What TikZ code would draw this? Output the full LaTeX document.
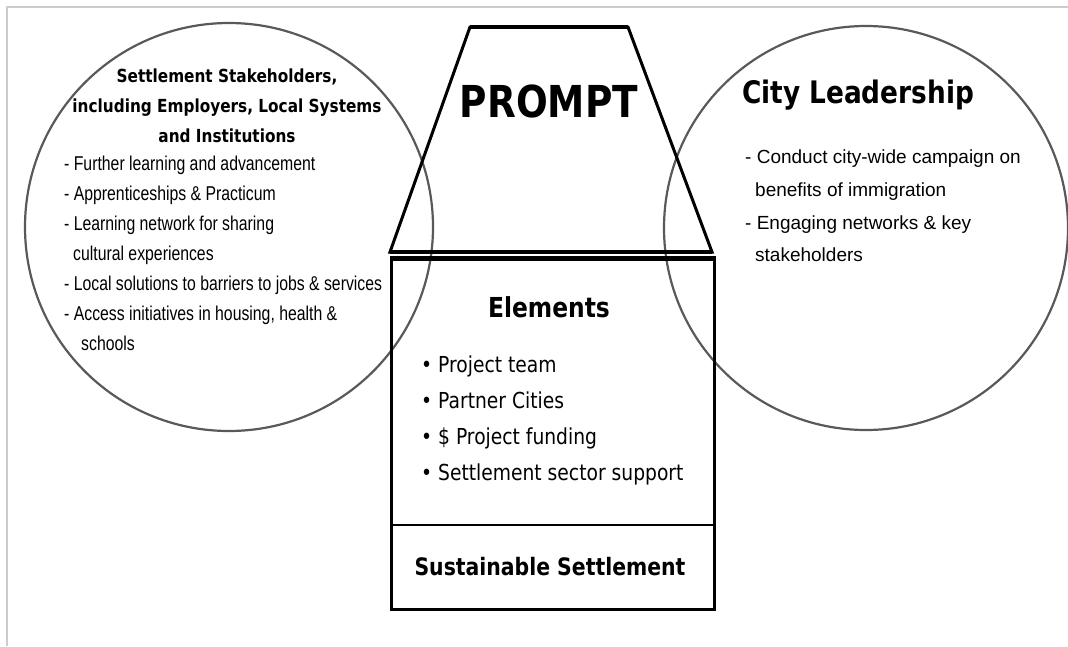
\documentclass[tikz,border=0pt]{standalone}
\usepackage{fontspec}
\setmainfont{Liberation Sans}
\newfontfamily\headfont[FakeStretch=0.85]{DejaVu Sans}
\newfontfamily\narrowfont[FakeStretch=0.79]{Liberation Sans}

\begin{document}
\begin{tikzpicture}[x=1pt,y=-1pt,inner sep=0pt]
    \tikzstyle{ring}=[circle,draw=black!65,line width=2.2pt,minimum size=408pt]
    \tikzstyle{head}=[anchor=base]
    \tikzstyle{item}=[anchor=base west]
    \useasboundingbox (0,0) rectangle (1068,646);
    \draw[black!20,line width=1.5pt] (7,646) -- (7,7) -- (1068,7);

    \node[ring] (stake) at (229,227) {};
    \node[ring,minimum size=404pt] (city) at (866,228) {};

    % prompt trapezoid on top of the box
    \coordinate (P-bl) at (390,252);
    \coordinate (P-tl) at (470,27);
    \coordinate (P-tr) at (628,27);
    \coordinate (P-br) at (712,252);
    \draw[line width=3pt] (P-bl) -- (P-tl) -- (P-tr) -- (P-br) -- cycle;
    \draw[line width=4.5pt] (P-tl) -- (P-tr);
    \draw[line width=4.5pt] (P-bl) -- (P-br);

    \node[draw,line width=3pt,minimum width=323pt,minimum height=350pt,anchor=north west] (box) at (390,258) {};
    \draw[line width=4.5pt] (box.north west) -- (box.north east);
    \coordinate (split) at (550,525);
    \draw[line width=2.5pt] (box.west |- split) -- (box.east |- split);

    \node[head,font=\fontsize{44}{44}\headfont\bfseries] (prompt) at (549,117) {PROMPT};

    \foreach \n/\y/\txt in {1/82/{Settlement Stakeholders,}, 2/112/{including Employers, Local Systems}, 3/142/{and Institutions}}
        \node[head,font=\fontsize{18}{18}\headfont\bfseries] (S-\n) at (227,\y) {\txt};
    \foreach \n/\x/\y/\txt in {1/64/170/{- Further learning and advancement}, 2/64/200/{- Apprenticeships \& Practicum},
            3/64/230/{- Learning network for sharing}, 4/73/260/{cultural experiences},
            5/64/290/{- Local solutions to barriers to jobs \& services}, 6/64/320/{- Access initiatives in housing, health \&},
            7/81/350/{schools}}
        \node[item,font=\fontsize{20}{20}\narrowfont] (L-\n) at (\x,\y) {\txt};

    \node[item,font=\fontsize{31}{31}\headfont\bfseries] (lead) at (742,103) {City Leadership};
    \foreach \n/\x/\y/\txt in {1/745/163/{- Conduct city-wide campaign on}, 2/755/196/{benefits of immigration},
            3/745/229/{- Engaging networks \& key}, 4/755/261/{stakeholders}}
        \node[item,font=\fontsize{19}{19}\selectfont] (C-\n) at (\x,\y) {\txt};

    \node[head,font=\fontsize{27.5}{27.5}\headfont\bfseries] (elem) at (549,317) {Elements};
    \foreach \n/\y/\txt in {1/372/{Project team}, 2/408/{Partner Cities}, 3/444/{\$ Project funding}, 4/480/{Settlement sector support}}
        \node[item,font=\fontsize{22}{22}\headfont] (E-\n) at (421,\y) {\textbullet\ \txt};

    \node[head,font=\fontsize{24}{24}\headfont\bfseries] (goal) at (550,575) {Sustainable Settlement};
\end{tikzpicture}
\end{document}
